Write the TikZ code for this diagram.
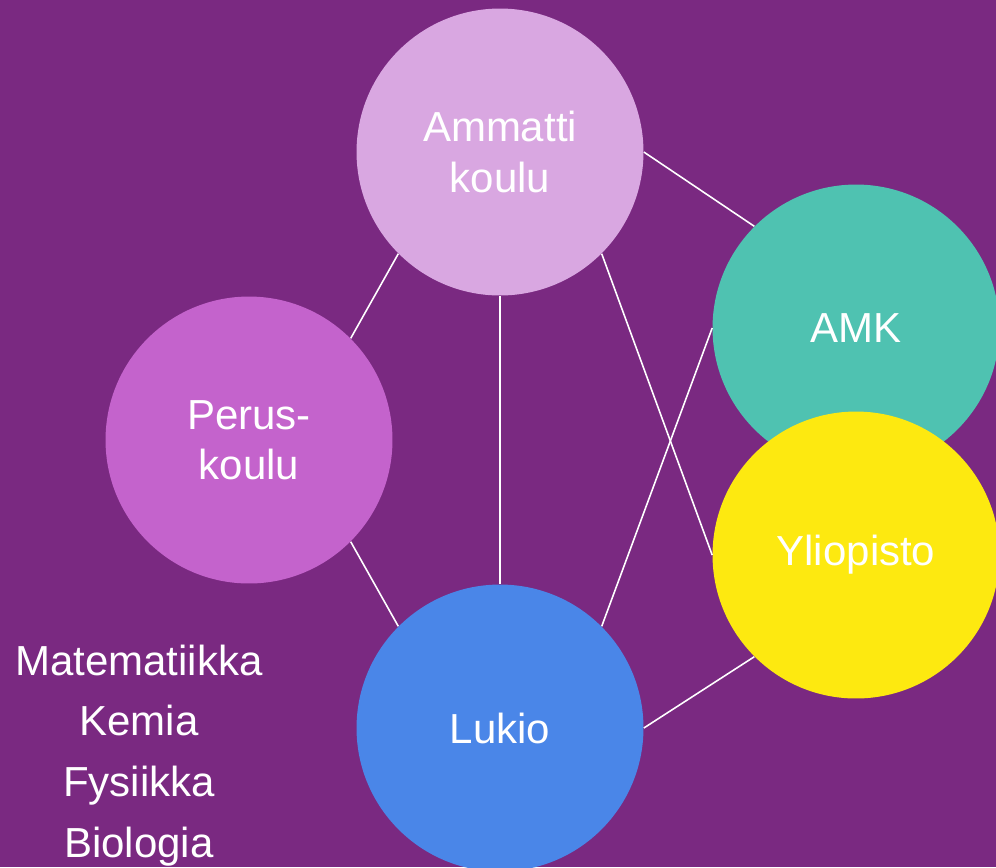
\documentclass[tikz,border=0pt]{standalone}
\usepackage{fontspec}
\setmainfont{Liberation Sans}

\definecolor{bgpurple}{HTML}{7A2981}
\definecolor{ammatticol}{HTML}{D9A7E1}
\definecolor{peruscol}{HTML}{C463CC}
\definecolor{lukiocol}{HTML}{4A86E8}
\definecolor{amkcol}{HTML}{4FC2B1}
\definecolor{yliocol}{HTML}{FDE910}

\tikzset{
  school/.style={circle, draw=none, minimum size=5.74cm, inner sep=0pt,
    text=white, align=center, font=\fontsize{23.9}{28.5}\selectfont},
  link/.style={draw=white, line width=0.9pt},
  subject/.style={text=white, anchor=base, inner sep=0pt,
    font=\fontsize{23.9}{28.5}\selectfont}
}

\begin{document}
\begin{tikzpicture}[x=0.02cm, y=-0.02cm]
  \fill [bgpurple] (0,0) rectangle (996,867);
  \useasboundingbox (0,0) rectangle (996,867);

  % schools
  \node [school, fill=ammatticol] (ammatti) at (500,152) {Ammatti\\koulu};
  \node [school, fill=peruscol] (perus) at (249,440) {Perus-\\koulu};
  \node [school, fill=lukiocol] (lukio) at (500,728) {Lukio};
  \node [school, fill=amkcol] (amk) at (856,328) {AMK};
  \node [school, fill=yliocol] (yliopisto) at (856,555) {Yliopisto};

  % links
  \draw [link] (ammatti.south west) -- (perus.north east);
  \draw [link] (ammatti.south) -- (lukio.north);
  \draw [link] (ammatti.east) -- (amk.north west);
  \draw [link] (ammatti.south east) -- (yliopisto.west);
  \draw [link] (perus.south east) -- (lukio.north west);
  \draw [link] (lukio.north east) -- (amk.west);
  \draw [link] (lukio.east) -- (yliopisto.south west);

  % subjects
  \foreach \subj [count=\i] in {Matematiikka, Kemia, Fysiikka, Biologia}
    \node [subject] (subj\i) at (139, 675+60.7*\i-60.7) {\subj};
\end{tikzpicture}
\end{document}
